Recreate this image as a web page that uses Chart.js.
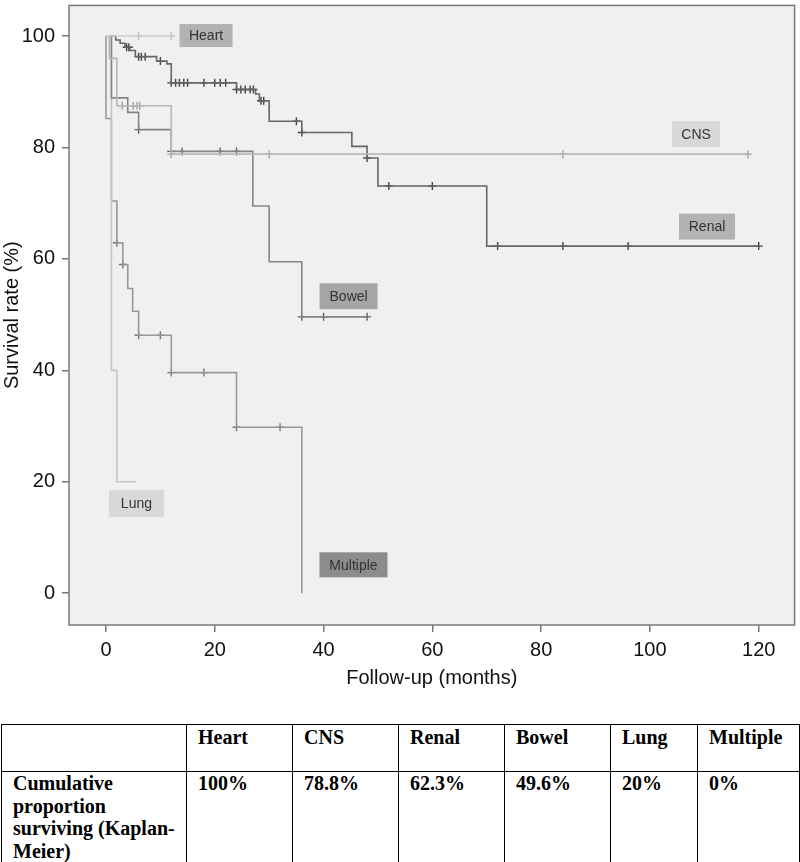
<!DOCTYPE html>
<html>
<head>
<meta charset="utf-8">
<script src="https://cdn.jsdelivr.net/npm/chart.js@4/dist/chart.umd.min.js"></script>
<style>
  html, body { margin: 0; padding: 0; background: #fff; }
  #wrap { position: relative; width: 800px; height: 862px; overflow: hidden; }
  #chartBox { position: absolute; left: 0; top: 0; width: 800px; height: 690px; }
  table {
    position: absolute; left: 1px; top: 724px; width: 798px;
    border-collapse: collapse; table-layout: fixed;
    font-family: 'Liberation Serif', 'Times New Roman', serif;
    font-weight: bold; font-size: 20px; line-height: 22.7px; color: #000;
  }
  td { border: 1.5px solid #000; vertical-align: top; padding: 1px 6px 0 11px; }
  tr.head td { height: 45px; }
  tr.vals td { height: 92px; padding-top: 0; }
</style>
</head>
<body>
<div id="wrap">
  <div id="chartBox"><canvas id="km"></canvas></div>
  <table id="tbl"></table>
</div>
<script>
/* ---------- data ---------- */

const xTicks = [0, 20, 40, 60, 80, 100, 120];
const yTicks = [0, 20, 40, 60, 80, 100];

const groups = ['Heart', 'CNS', 'Renal', 'Bowel', 'Lung', 'Multiple'];
const finalSurvival = ['100%', '78.8%', '62.3%', '49.6%', '20%', '0%'];
const rowLabel = 'Cumulative proportion surviving (Kaplan-Meier)';

// [month, survival %] after each drop
const heartSteps = [[0, 100]];
const heartEnd = 12;
const heartCensor = [6, 12];

const cnsSteps = [[0, 100], [0.6, 96], [2, 87.5], [12, 78.8]];
const cnsEnd = 118;
const cnsCensor = [3, 5, 5.7, 6.2, 12, 30, 84, 118];

const renalSteps = [[0, 100], [1.8, 99.3], [2.6, 98.7], [3.5, 98.0], [4.4, 97.4], [5.4, 96.3],
  [9.3, 95.5], [11.2, 95.0], [12, 91.6], [24, 90.4], [27.5, 89.6], [28.2, 88.4], [30, 84.7],
  [36, 82.7], [45.2, 80.2], [48, 78.1], [50, 73.1], [70, 62.3]];
const renalEnd = 120;
const renalCensor = [3.8, 4.2, 6, 6.5, 7.2, 10, 12, 12.8, 13.5, 14.3, 15, 18, 20, 21, 22,
  24, 24.8, 25.6, 26.5, 27.1, 28.5, 29, 35, 36, 48, 52, 60, 72, 84, 96, 120];

const bowelSteps = [[0, 100], [1, 88.9], [4, 86.3], [6, 83.2], [12, 79.3], [27, 69.5], [30, 59.5], [36, 49.6]];
const bowelEnd = 48;
const bowelCensor = [6, 12, 14, 21, 24, 36, 40, 48];

const lungSteps = [[0, 100], [1, 40], [2, 20]];
const lungEnd = 5.6;
const lungCensor = [];

const multipleSteps = [[0, 100], [0, 85.2], [1, 70.4], [2, 62.9], [3.1, 59], [4, 54.7],
  [4.9, 50.6], [6, 46.3], [12, 39.6], [24, 29.8], [36, 0]];
const multipleEnd = 36;
const multipleCensor = [2, 3.1, 6, 10, 12, 18, 24, 32];

/* ---------- styling ---------- */

const series = [
  { steps: heartSteps,    end: heartEnd,    censor: heartCensor,    line: '#cfcfcf', mark: '#c2c2c2' },
  { steps: cnsSteps,      end: cnsEnd,      censor: cnsCensor,      line: '#b8b8b8', mark: '#a0a0a0' },
  { steps: renalSteps,    end: renalEnd,    censor: renalCensor,    line: '#666666', mark: '#444444' },
  { steps: bowelSteps,    end: bowelEnd,    censor: bowelCensor,    line: '#858585', mark: '#606060' },
  { steps: lungSteps,     end: lungEnd,     censor: lungCensor,     line: '#c4c4c4', mark: '#b0b0b0' },
  { steps: multipleSteps, end: multipleEnd, censor: multipleCensor, line: '#999999', mark: '#777777' }
];

// label boxes: anchor in data units, box in px
const boxLabels = [
  { text: 'Heart',    x: 18.4,  y: 100.1, w: 53, h: 23, fill: '#b3b3b3' },
  { text: 'CNS',      x: 108.5, y: 82.4,  w: 48, h: 26, fill: '#d8d8d8' },
  { text: 'Renal',    x: 110.5, y: 65.8,  w: 56, h: 26, fill: '#b3b3b3' },
  { text: 'Bowel',    x: 44.6,  y: 53.3,  w: 58, h: 26, fill: '#a6a6a6' },
  { text: 'Lung',     x: 5.6,   y: 16.1,  w: 55, h: 27, fill: '#d8d8d8' },
  { text: 'Multiple', x: 45.5,  y: 5.1,   w: 68, h: 25, fill: '#8c8c8c' }
];

const sansFont = "'Liberation Sans', Arial, sans-serif";

/* ---------- helpers ---------- */

function survAt(steps, t) {
  let v = steps[0][1];
  steps.forEach(s => { if (s[0] <= t) v = s[1]; });
  return v;
}

const datasets = [];
series.forEach(s => {
  const pts = s.steps.map(p => ({ x: p[0], y: p[1] }));
  pts.push({ x: s.end, y: s.steps[s.steps.length - 1][1] });
  datasets.push({
    data: pts,
    stepped: true,
    borderColor: s.line,
    borderWidth: 1.6,
    pointRadius: 0,
    fill: false
  });
  datasets.push({
    data: s.censor.map(t => ({ x: t, y: survAt(s.steps, t) })),
    showLine: false,
    pointStyle: 'cross',
    pointRadius: 4,
    borderColor: s.mark,
    borderWidth: 1.4
  });
});

const plotFrame = {
  id: 'plotFrame',
  beforeDraw(chart) {
    const { ctx, chartArea: a } = chart;
    ctx.save();
    ctx.fillStyle = '#f0f0f0';
    ctx.fillRect(a.left, a.top, a.width, a.height);
    ctx.restore();
  },
  afterDraw(chart) {
    const { ctx, chartArea: a } = chart;
    ctx.save();
    ctx.strokeStyle = '#7a7a7a';
    ctx.lineWidth = 1.5;
    ctx.strokeRect(a.left, a.top, a.width, a.height);
    ctx.restore();
  }
};

const curveLabels = {
  id: 'curveLabels',
  afterDatasetsDraw(chart) {
    const { ctx, scales: { x, y } } = chart;
    ctx.save();
    ctx.font = '14px ' + sansFont;
    ctx.textAlign = 'center';
    ctx.textBaseline = 'middle';
    boxLabels.forEach(b => {
      const cx = x.getPixelForValue(b.x);
      const cy = y.getPixelForValue(b.y);
      ctx.fillStyle = b.fill;
      ctx.fillRect(cx - b.w / 2, cy - b.h / 2, b.w, b.h);
      ctx.fillStyle = '#333';
      ctx.fillText(b.text, cx, cy + 1);
    });
    ctx.restore();
  }
};

// no extra edge padding from the tick labels
function noPad(s) {
  s.paddingTop = 0; s.paddingBottom = 0; s.paddingLeft = 0; s.paddingRight = 0;
}

/* ---------- chart ---------- */

new Chart(document.getElementById('km'), {
  type: 'line',
  data: { datasets },
  options: {
    responsive: true,
    maintainAspectRatio: false,
    animation: false,
    layout: { padding: { top: 1, right: 2, left: 0, bottom: 0 } },
    plugins: {
      legend: { display: false },
      tooltip: { enabled: false }
    },
    scales: {
      x: {
        type: 'linear',
        min: -6.8,
        max: 126.6,
        afterBuildTicks: s => { s.ticks = xTicks.map(v => ({ value: v })); },
        afterFit: s => { noPad(s); s.height = 65; },
        border: { display: false },
        grid: { drawOnChartArea: false, drawTicks: true, tickLength: 7, color: '#777', lineWidth: 1.5 },
        ticks: { color: '#111', padding: 6, maxRotation: 0, font: { family: sansFont, size: 20 } },
        title: {
          display: true,
          text: 'Follow-up (months)',
          color: '#111',
          padding: { top: 4, bottom: 0 },
          font: { family: sansFont, size: 20 }
        }
      },
      y: {
        type: 'linear',
        min: -5.7,
        max: 105.5,
        afterBuildTicks: s => { s.ticks = yTicks.map(v => ({ value: v })); },
        afterFit: s => { noPad(s); s.width = 69; },
        border: { display: false },
        grid: { drawOnChartArea: false, drawTicks: true, tickLength: 7, color: '#777', lineWidth: 1.5 },
        ticks: { color: '#111', padding: 7, font: { family: sansFont, size: 20 } },
        title: {
          display: true,
          text: 'Survival rate (%)',
          color: '#111',
          padding: { top: 0, bottom: 0 },
          font: { family: sansFont, size: 20 }
        }
      }
    }
  },
  plugins: [plotFrame, curveLabels]
});

/* ---------- table ---------- */

const tbl = document.getElementById('tbl');
const colW = [185, 106, 106, 106, 106, 87, 102];
tbl.innerHTML =
  '<colgroup>' + colW.map(w => `<col style="width:${w}px">`).join('') + '</colgroup>' +
  '<tr class="head"><td></td>' + groups.map(g => `<td>${g}</td>`).join('') + '</tr>' +
  `<tr class="vals"><td>${rowLabel}</td>` + finalSurvival.map(v => `<td>${v}</td>`).join('') + '</tr>';
</script>
</body>
</html>
